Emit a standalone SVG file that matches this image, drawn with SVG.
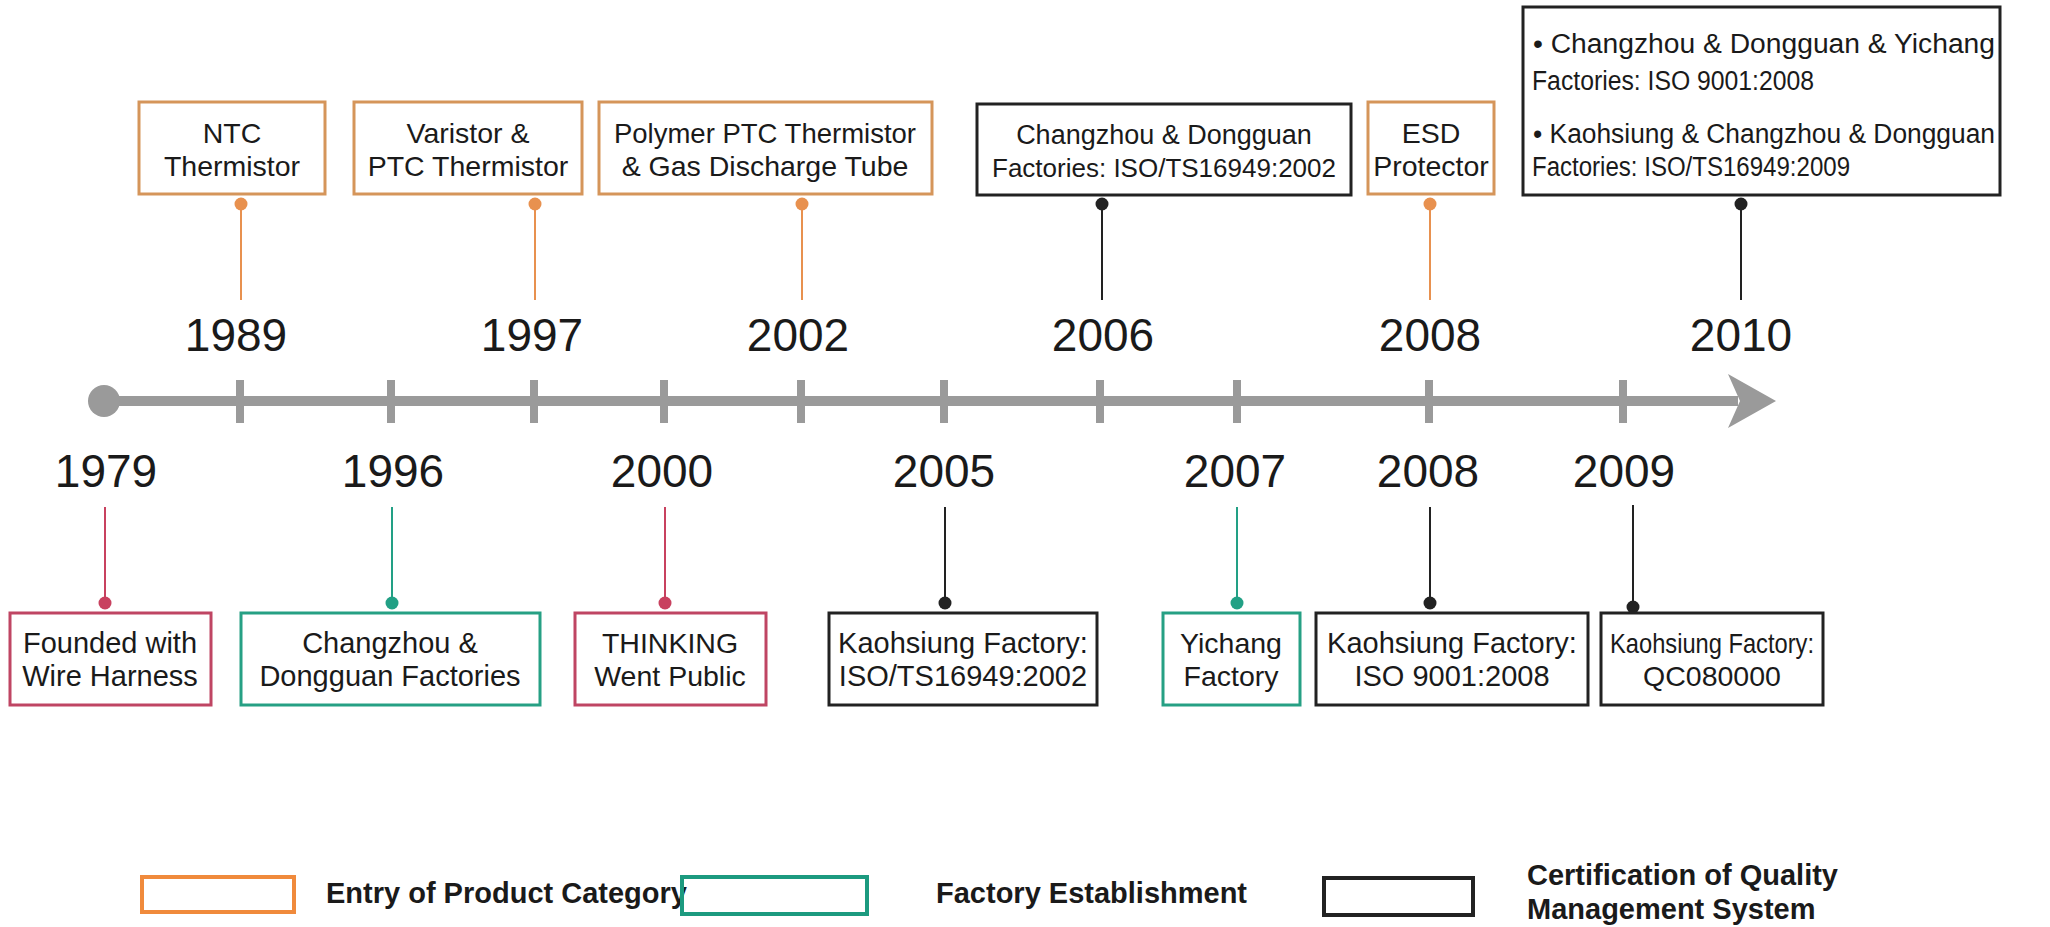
<svg xmlns="http://www.w3.org/2000/svg" width="2050" height="927" viewBox="0 0 2050 927">
<style>
text{font-family:"Liberation Sans",Arial,sans-serif;fill:#1a1a1a}
.yr{font-size:46px;text-anchor:middle}
.bt{font-size:28.5px;text-anchor:middle}
.bb{font-size:29px;text-anchor:middle}
.bl{font-size:27px}
.lg{font-size:29px;font-weight:bold}
.box{fill:#fff;stroke-width:3}
.o{stroke:#d5955a}
.t{stroke:#26a084}
.r{stroke:#bf4563}
.k{stroke:#222}
.lo{stroke:#e8914f;stroke-width:2}
.lt{stroke:#22a085;stroke-width:2}
.lr{stroke:#c8415f;stroke-width:2}
.lk{stroke:#222;stroke-width:2}
.do{fill:#e8914f}
.dt{fill:#22a085}
.dr{fill:#c8415f}
.dk{fill:#222}
.tick{fill:#9a9a9a}
</style>
<rect width="2050" height="927" fill="#fff"/>
<g id="timeline">
<line x1="104" y1="401" x2="1738" y2="401" stroke="#9a9a9a" stroke-width="10"/>
<circle cx="104" cy="401" r="16" fill="#9a9a9a"/>
<polygon points="1728,374 1776,401 1728,428 1740,401" fill="#9a9a9a"/>
<rect class="tick" x="236" y="380" width="8" height="43"/>
<rect class="tick" x="387" y="380" width="8" height="43"/>
<rect class="tick" x="530" y="380" width="8" height="43"/>
<rect class="tick" x="660" y="380" width="8" height="43"/>
<rect class="tick" x="797" y="380" width="8" height="43"/>
<rect class="tick" x="940" y="380" width="8" height="43"/>
<rect class="tick" x="1096" y="380" width="8" height="43"/>
<rect class="tick" x="1233" y="380" width="8" height="43"/>
<rect class="tick" x="1425" y="380" width="8" height="43"/>
<rect class="tick" x="1619" y="380" width="8" height="43"/>
</g>
<g id="years">
<text class="yr" x="236" y="351">1989</text>
<text class="yr" x="532" y="351">1997</text>
<text class="yr" x="798" y="351">2002</text>
<text class="yr" x="1103" y="351">2006</text>
<text class="yr" x="1430" y="351">2008</text>
<text class="yr" x="1741" y="351">2010</text>
<text class="yr" x="106" y="487">1979</text>
<text class="yr" x="393" y="487">1996</text>
<text class="yr" x="662" y="487">2000</text>
<text class="yr" x="944" y="487">2005</text>
<text class="yr" x="1235" y="487">2007</text>
<text class="yr" x="1428" y="487">2008</text>
<text class="yr" x="1624" y="487">2009</text>
</g>
<g id="connectors">
<line class="lo" x1="241" y1="204" x2="241" y2="300"/><circle class="do" cx="241" cy="204" r="6.5"/>
<line class="lo" x1="535" y1="204" x2="535" y2="300"/><circle class="do" cx="535" cy="204" r="6.5"/>
<line class="lo" x1="802" y1="204" x2="802" y2="300"/><circle class="do" cx="802" cy="204" r="6.5"/>
<line class="lk" x1="1102" y1="204" x2="1102" y2="300"/><circle class="dk" cx="1102" cy="204" r="6.5"/>
<line class="lo" x1="1430" y1="204" x2="1430" y2="300"/><circle class="do" cx="1430" cy="204" r="6.5"/>
<line class="lk" x1="1741" y1="204" x2="1741" y2="300"/><circle class="dk" cx="1741" cy="204" r="6.5"/>
<line class="lr" x1="105" y1="507" x2="105" y2="603"/><circle class="dr" cx="105" cy="603" r="6.5"/>
<line class="lt" x1="392" y1="507" x2="392" y2="603"/><circle class="dt" cx="392" cy="603" r="6.5"/>
<line class="lr" x1="665" y1="507" x2="665" y2="603"/><circle class="dr" cx="665" cy="603" r="6.5"/>
<line class="lk" x1="945" y1="507" x2="945" y2="603"/><circle class="dk" cx="945" cy="603" r="6.5"/>
<line class="lt" x1="1237" y1="507" x2="1237" y2="603"/><circle class="dt" cx="1237" cy="603" r="6.5"/>
<line class="lk" x1="1430" y1="507" x2="1430" y2="603"/><circle class="dk" cx="1430" cy="603" r="6.5"/>
<line class="lk" x1="1633" y1="505" x2="1633" y2="607"/><circle class="dk" cx="1633" cy="607" r="6.5"/>
</g>
<g id="n1989"><rect class="box o" x="139" y="102" width="186" height="92"/><text class="bt" x="232" y="143">NTC</text><text class="bt" x="232" y="176">Thermistor</text></g>
<g id="n1997"><rect class="box o" x="354" y="102" width="228" height="92"/><text class="bt" x="468" y="143">Varistor &amp;</text><text class="bt" x="468" y="176">PTC Thermistor</text></g>
<g id="n2002"><rect class="box o" x="599" y="102" width="333" height="92"/><text class="bt" x="765" y="143" style="font-size:27.5px">Polymer PTC Thermistor</text><text class="bt" x="765" y="176">&amp; Gas Discharge Tube</text></g>
<g id="n2006"><rect class="box k" x="977" y="104" width="374" height="91"/><text class="bt" x="1164" y="144" style="font-size:27px">Changzhou &amp; Dongguan</text><text class="bt" x="1164" y="177" style="font-size:26px">Factories: ISO/TS16949:2002</text></g>
<g id="n2008a"><rect class="box o" x="1368" y="102" width="126" height="92"/><text class="bt" x="1431" y="143">ESD</text><text class="bt" x="1431" y="176">Protector</text></g>
<g id="n2010"><rect class="box k" x="1523" y="7" width="477" height="188"/>
<text class="bl" x="1533" y="53" textLength="462" lengthAdjust="spacingAndGlyphs">• Changzhou &amp; Dongguan &amp; Yichang</text>
<text class="bl" x="1532" y="90" textLength="282" lengthAdjust="spacingAndGlyphs">Factories: ISO 9001:2008</text>
<text class="bl" x="1533" y="143" textLength="462" lengthAdjust="spacingAndGlyphs">• Kaohsiung &amp; Changzhou &amp; Dongguan</text>
<text class="bl" x="1532" y="176" textLength="318" lengthAdjust="spacingAndGlyphs">Factories: ISO/TS16949:2009</text></g>
<g id="n1979"><rect class="box r" x="10" y="613" width="201" height="92"/><text class="bb" x="110" y="653">Founded with</text><text class="bb" x="110" y="686">Wire Harness</text></g>
<g id="n1996"><rect class="box t" x="241" y="613" width="299" height="92"/><text class="bb" x="390" y="653">Changzhou &amp;</text><text class="bb" x="390" y="686">Dongguan Factories</text></g>
<g id="n2000"><rect class="box r" x="575" y="613" width="191" height="92"/><text class="bt" x="670" y="653">THINKING</text><text class="bt" x="670" y="686">Went Public</text></g>
<g id="n2005"><rect class="box k" x="829" y="613" width="268" height="92"/><text class="bb" x="963" y="653">Kaohsiung Factory:</text><text class="bb" x="963" y="686">ISO/TS16949:2002</text></g>
<g id="n2007"><rect class="box t" x="1163" y="613" width="137" height="92"/><text class="bt" x="1231" y="653">Yichang</text><text class="bt" x="1231" y="686">Factory</text></g>
<g id="n2008b"><rect class="box k" x="1316" y="613" width="272" height="92"/><text class="bb" x="1452" y="653">Kaohsiung Factory:</text><text class="bb" x="1452" y="686">ISO 9001:2008</text></g>
<g id="n2009"><rect class="box k" x="1601" y="613" width="222" height="92"/><text class="bt" x="1712" y="653" textLength="204" lengthAdjust="spacingAndGlyphs">Kaohsiung Factory:</text><text class="bt" x="1712" y="686">QC080000</text></g>
<g id="legend">
<rect x="142" y="877" width="152" height="35" fill="none" stroke="#f08a3c" stroke-width="4"/>
<text class="lg" x="326" y="903">Entry of Product Category</text>
<rect x="682" y="877" width="185" height="37" fill="none" stroke="#1c9a7f" stroke-width="4"/>
<text class="lg" x="936" y="903">Factory Establishment</text>
<rect x="1324" y="878" width="149" height="37" fill="none" stroke="#222" stroke-width="4"/>
<text class="lg" x="1527" y="885">Certification of Quality</text>
<text class="lg" x="1527" y="919">Management System</text>
</g>
</svg>
